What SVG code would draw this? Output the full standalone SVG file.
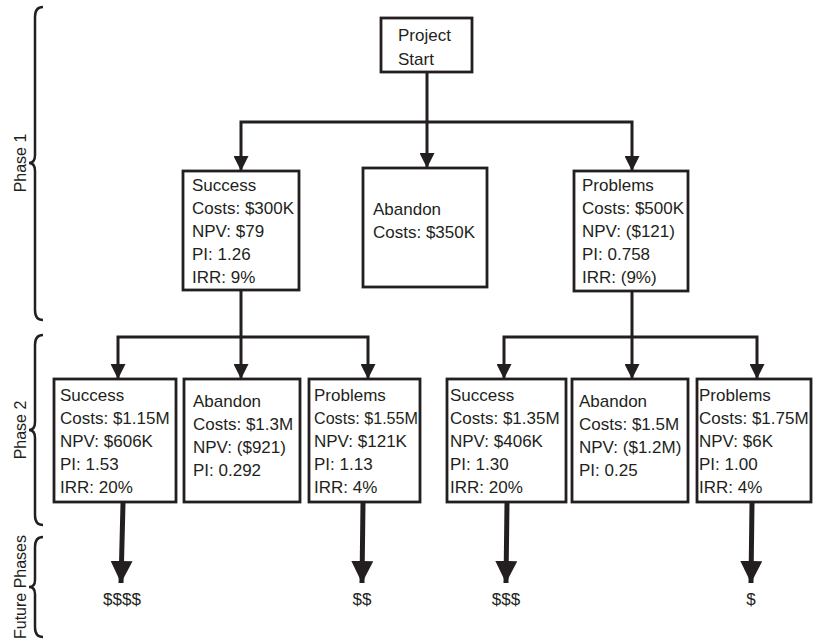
<svg xmlns="http://www.w3.org/2000/svg" width="814" height="640" viewBox="0 0 814 640">
<style>
  .box { fill: #ffffff; stroke: #231f20; stroke-width: 2.8; }
  .t { font-family: "Liberation Sans", Arial, sans-serif; font-size: 17px; fill: #231f20; }
  .lbl { font-family: "Liberation Sans", Arial, sans-serif; font-size: 17px; fill: #231f20; }
  .phase { font-family: "Liberation Sans", Arial, sans-serif; font-size: 16px; fill: #231f20; text-anchor: middle; }
  .conn { fill: none; stroke: #231f20; stroke-width: 3; }
  .thick { fill: none; stroke: #231f20; stroke-width: 5; }
  .brace { fill: none; stroke: #231f20; stroke-width: 2.5; }
</style>
<defs>
  <marker id="ah" markerUnits="userSpaceOnUse" markerWidth="15" markerHeight="15" refX="15" refY="7.5" orient="auto">
    <path d="M0,0 L15,7.5 L0,15 Z" fill="#231f20"/>
  </marker>
  <marker id="ahBig" markerUnits="userSpaceOnUse" markerWidth="22" markerHeight="22" refX="22" refY="11" orient="auto">
    <path d="M0,0 L22,11 L0,22 Z" fill="#231f20"/>
  </marker>
</defs>
<rect width="814" height="640" fill="#ffffff"/>

<g id="braces">
  <path class="brace" d="M43,7 Q35,7 35,17 L35,155 Q35,163 29,163 Q35,163 35,171 L35,310 Q35,320 43,320"/>
  <text class="phase" transform="translate(26,163) rotate(-90)">Phase 1</text>
  <path class="brace" d="M43,335 Q35,335 35,345 L35,422 Q35,430 29,430 Q35,430 35,438 L35,515 Q35,525 43,525"/>
  <text class="phase" transform="translate(26,430) rotate(-90)">Phase 2</text>
  <path class="brace" d="M43,537 Q35,537 35,547 L35,580 Q35,587 29,587 Q35,587 35,594 L35,627 Q35,637 43,637"/>
  <text class="phase" transform="translate(26,587) rotate(-90)">Future Phases</text>
</g>

<g id="connectors">
  <path class="conn" d="M427,72 V168" marker-end="url(#ah)"/>
  <path class="conn" d="M427,122 H241 V171" marker-end="url(#ah)"/>
  <path class="conn" d="M427,122 H632 V171" marker-end="url(#ah)"/>
  <path class="conn" d="M241,290 V379" marker-end="url(#ah)"/>
  <path class="conn" d="M241,337 H118 V379" marker-end="url(#ah)"/>
  <path class="conn" d="M241,337 H368 V379" marker-end="url(#ah)"/>
  <path class="conn" d="M632,291 V379" marker-end="url(#ah)"/>
  <path class="conn" d="M632,337 H504 V379" marker-end="url(#ah)"/>
  <path class="conn" d="M632,337 H757 V379" marker-end="url(#ah)"/>
  <path class="thick" d="M123,503 L121,583" marker-end="url(#ahBig)"/>
  <path class="thick" d="M363,503 L362,583" marker-end="url(#ahBig)"/>
  <path class="thick" d="M507,503 L506,583" marker-end="url(#ahBig)"/>
  <path class="thick" d="M752,503 L751,583" marker-end="url(#ahBig)"/>
</g>

<g id="start">
  <rect class="box" x="381" y="18" width="91" height="54"/>
  <text class="t" x="398" y="41">Project</text>
  <text class="t" x="398" y="65">Start</text>
</g>

<g id="p1-success">
  <rect class="box" x="183" y="171" width="116" height="119"/>
  <text class="t" x="192" y="191">Success</text>
  <text class="t" x="192" y="214">Costs: $300K</text>
  <text class="t" x="192" y="237">NPV: $79</text>
  <text class="t" x="192" y="260">PI: 1.26</text>
  <text class="t" x="192" y="283">IRR: 9%</text>
</g>

<g id="p1-abandon">
  <rect class="box" x="363" y="168" width="124" height="119"/>
  <text class="t" x="373" y="215">Abandon</text>
  <text class="t" x="373" y="238">Costs: $350K</text>
</g>

<g id="p1-problems">
  <rect class="box" x="574" y="171" width="114" height="120"/>
  <text class="t" x="582" y="191">Problems</text>
  <text class="t" x="582" y="214">Costs: $500K</text>
  <text class="t" x="582" y="237">NPV: ($121)</text>
  <text class="t" x="582" y="260">PI: 0.758</text>
  <text class="t" x="582" y="283">IRR: (9%)</text>
</g>

<g id="p2-success-a">
  <rect class="box" x="54" y="379" width="122" height="123"/>
  <text class="t" x="60" y="401">Success</text>
  <text class="t" x="60" y="424">Costs: $1.15M</text>
  <text class="t" x="60" y="447">NPV: $606K</text>
  <text class="t" x="60" y="470">PI: 1.53</text>
  <text class="t" x="60" y="493">IRR: 20%</text>
</g>

<g id="p2-abandon-a">
  <rect class="box" x="184" y="379" width="116" height="123"/>
  <text class="t" x="193" y="407">Abandon</text>
  <text class="t" x="193" y="430">Costs: $1.3M</text>
  <text class="t" x="193" y="453">NPV: ($921)</text>
  <text class="t" x="193" y="476">PI: 0.292</text>
</g>

<g id="p2-problems-a">
  <rect class="box" x="309" y="379" width="111" height="123"/>
  <text class="t" x="314" y="401">Problems</text>
  <text class="t" x="314" y="424" textLength="104" lengthAdjust="spacingAndGlyphs">Costs: $1.55M</text>
  <text class="t" x="314" y="447">NPV: $121K</text>
  <text class="t" x="314" y="470">PI: 1.13</text>
  <text class="t" x="314" y="493">IRR: 4%</text>
</g>

<g id="p2-success-b">
  <rect class="box" x="447" y="379" width="119" height="123"/>
  <text class="t" x="450" y="401">Success</text>
  <text class="t" x="450" y="424">Costs: $1.35M</text>
  <text class="t" x="450" y="447">NPV: $406K</text>
  <text class="t" x="450" y="470">PI: 1.30</text>
  <text class="t" x="450" y="493">IRR: 20%</text>
</g>

<g id="p2-abandon-b">
  <rect class="box" x="572" y="379" width="116" height="123"/>
  <text class="t" x="579" y="407">Abandon</text>
  <text class="t" x="579" y="430">Costs: $1.5M</text>
  <text class="t" x="579" y="453">NPV: ($1.2M)</text>
  <text class="t" x="579" y="476">PI: 0.25</text>
</g>

<g id="p2-problems-b">
  <rect class="box" x="697" y="379" width="114" height="123"/>
  <text class="t" x="699" y="401">Problems</text>
  <text class="t" x="699" y="424">Costs: $1.75M</text>
  <text class="t" x="699" y="447">NPV: $6K</text>
  <text class="t" x="699" y="470">PI: 1.00</text>
  <text class="t" x="699" y="493">IRR: 4%</text>
</g>

<g id="outcomes">
  <text class="lbl" x="122" y="605" text-anchor="middle">$$$$</text>
  <text class="lbl" x="362" y="605" text-anchor="middle">$$</text>
  <text class="lbl" x="506" y="605" text-anchor="middle">$$$</text>
  <text class="lbl" x="751" y="605" text-anchor="middle">$</text>
</g>
</svg>
